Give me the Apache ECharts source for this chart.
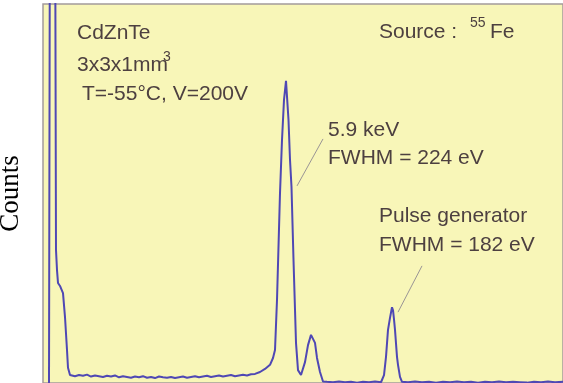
<!DOCTYPE html>
<html>
<head>
<meta charset="utf-8">
<script src="https://cdn.jsdelivr.net/npm/echarts@6/dist/echarts.min.js"></script>
<style>
  html, body { margin: 0; padding: 0; background: #fff; }
  #chart { width: 563px; height: 383px; }
</style>
</head>
<body>
<div id="chart"></div>
<script>
// MCA spectrum, CdZnTe 3x3x1mm3, 55Fe source
var channels = [
  12, 14, 24, 26, 28, 30, 34, 38, 40, 44, 48, 50, 54,
  56, 64, 72, 80, 88, 96, 104, 112, 120, 128, 136, 144, 152, 160, 168, 176, 184, 192,
  200, 208, 216, 224, 232, 240, 248, 256, 264, 272, 280, 288, 296, 304, 312, 320,
  328, 336, 344, 352, 360, 368, 376, 384, 392, 400, 408, 416, 424,
  434, 444, 454, 460, 464, 468, 474, 478, 482, 486, 489, 491, 494, 497, 501, 506, 510,
  516, 524, 530, 536, 540, 544, 548, 554, 560,
  568, 580, 592, 604, 616, 628, 640, 652, 664, 676,
  682, 686, 690, 694, 698, 700, 702, 704, 708, 710, 714, 718,
  730, 744, 758, 772, 786, 800, 814, 828, 842, 856, 870, 884, 898, 912, 926, 940,
  954, 968, 982, 996, 1010, 1024, 1040
];
var counts = [
  0, 1400, 1400, 351, 298, 264, 256, 251, 237, 174, 87, 40, 21,
  20, 18, 21, 19, 22, 17, 20, 18, 16, 19, 17, 20, 15, 18, 16, 14, 17, 15,
  18, 14, 16, 13, 17, 15, 14, 16, 13, 15, 17, 14, 16, 18, 15, 17,
  19, 16, 18, 20, 17, 19, 21, 18, 20, 22, 20, 23, 24,
  29, 37, 48, 66, 87, 219, 501, 641, 747, 797, 792, 694, 589, 517, 325, 106, 34,
  21, 55, 100, 127, 132, 106, 66, 29, 4,
  3, 2, 4, 2, 3, 1, 3, 2, 4, 2,
  21, 69, 140, 172, 200, 192, 168, 140, 69, 48, 16, 3,
  2, 4, 2, 3, 1, 3, 2, 4, 2, 3, 1, 3, 2, 4, 2, 3,
  2, 1, 3, 2, 4, 2, 3
];
// leader lines: [from, to] in [channel, counts]
var peakLeader = [[560, 644], [508, 520]];
var pulseLeader = [[758, 309], [710, 187]];

var spectrum = channels.map(function (c, i) { return [c, counts[i]]; });

var textColor = '#4d4040';
var sans = '"Liberation Sans", Arial, sans-serif';

function label(x, y, text, size) {
  return {
    type: 'text',
    x: x,
    y: y,
    silent: true,
    style: {
      text: text,
      fill: textColor,
      font: (size || 21) + 'px ' + sans,
      textVerticalAlign: 'middle'
    }
  };
}

var myChart = echarts.init(document.getElementById('chart'));
var option = {
  animation: false,
  grid: {
    left: 43,
    right: 0,
    top: 4,
    bottom: 0,
    containLabel: false,
    outerBoundsMode: 'none',
    show: true,
    backgroundColor: '#f8f6b8',
    borderColor: '#a39a9a',
    borderWidth: 1.5
  },
  xAxis: {
    type: 'value',
    min: 0,
    max: 1040,
    show: false
  },
  yAxis: {
    type: 'value',
    min: 0,
    max: 1000,
    name: 'Counts',
    nameLocation: 'middle',
    nameGap: 19,
    nameTextStyle: {
      fontFamily: '"Liberation Serif", "Times New Roman", serif',
      fontSize: 27,
      color: '#000'
    },
    axisLine: { show: false },
    axisTick: { show: false },
    axisLabel: { show: false },
    splitLine: { show: false }
  },
  series: [
    {
      type: 'line',
      data: spectrum,
      showSymbol: false,
      clip: true,
      lineStyle: {
        color: '#4f48b4',
        width: 2
      },
      markLine: {
        silent: true,
        symbol: ['none', 'none'],
        label: { show: false },
        lineStyle: {
          color: '#9a9595',
          width: 1,
          type: 'solid'
        },
        data: [
          [{ coord: peakLeader[0] }, { coord: peakLeader[1] }],
          [{ coord: pulseLeader[0] }, { coord: pulseLeader[1] }]
        ]
      }
    }
  ],
  graphic: [
    label(77, 33, 'CdZnTe'),
    label(77, 65, '3x3x1mm'),
    label(163, 57, '3', 14),
    label(82, 94, 'T=-55°C, V=200V'),
    label(379, 32, 'Source :'),
    label(470, 23, '55', 14),
    label(490, 32, 'Fe'),
    label(328, 130, '5.9 keV'),
    label(328, 158, 'FWHM = 224 eV'),
    label(379, 216, 'Pulse generator'),
    label(379, 245, 'FWHM = 182 eV')
  ]
};
myChart.setOption(option);
</script>
</body>
</html>
